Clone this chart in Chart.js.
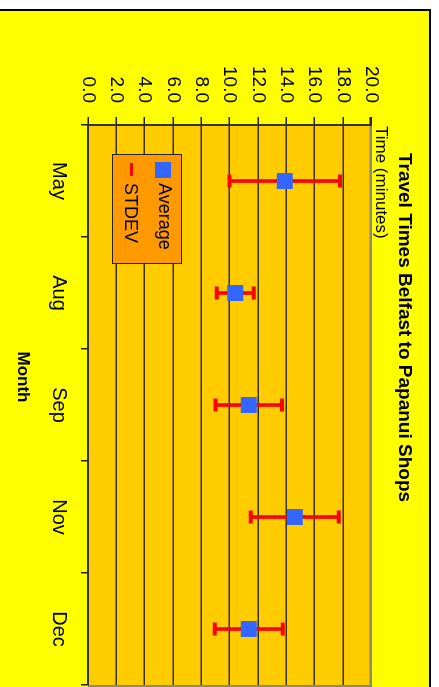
<!DOCTYPE html>
<html>
<head>
<meta charset="utf-8">
<script src="https://cdn.jsdelivr.net/npm/chart.js@4.4.1/dist/chart.umd.min.js"></script>
<style>
html,body{margin:0;padding:0;background:#fff;overflow:hidden;width:439px;height:687px;}
#rot{position:absolute;left:0;top:0;width:687px;height:439px;transform-origin:0 0;transform:translate(439px,0) rotate(90deg);}
#c{position:absolute;left:0;top:0;}
#legend{position:absolute;left:154px;top:257px;width:110px;height:70px;box-sizing:border-box;background:#FF9900;border:1px solid #222;font-family:"Liberation Sans",Arial,sans-serif;font-size:18px;line-height:18px;color:#000;}
#legend .sq{position:absolute;left:7px;top:10px;width:16px;height:16px;background:#3366FF;}
#legend .t1{position:absolute;left:28px;top:7px;white-space:nowrap;}
#legend .dash{position:absolute;left:8px;top:48px;width:13px;height:3px;background:#FF0000;}
#legend .t2{position:absolute;left:28px;top:41px;white-space:nowrap;}
</style>
</head>
<body>
<div id="rot">
  <canvas id="c" width="687" height="439"></canvas>
  <div id="legend"><div class="sq"></div><div class="t1" id="l1"></div><div class="dash"></div><div class="t2" id="l2"></div></div>
</div>
<script>
// ---- data ----
const months = ['May', 'Aug', 'Sep', 'Nov', 'Dec'];
const average = [13.9, 10.4, 11.35, 14.6, 11.35];
const stdev = [3.9, 1.3, 2.35, 3.1, 2.4];
const timeMin = 0;
const timeMax = 20;
const timeStep = 2;
const seriesNames = ['Average', 'STDEV'];
const titleText = 'Travel Times Belfast to Papanui Shops';
const xTitle = 'Month';
const yTitle = 'Time (minutes)';

const lower = average.map((a, i) => a - stdev[i]);
const upper = average.map((a, i) => a + stdev[i]);
const whisker = average.map((a, i) => [lower[i], upper[i]]);

document.getElementById('l1').textContent = seriesNames[0];
document.getElementById('l2').textContent = seriesNames[1];

const FAMILY = '"Liberation Sans", Arial, sans-serif';
Chart.defaults.font.family = FAMILY;
Chart.defaults.color = '#000';

const decor = {
  id: 'decor',
  afterLayout(chart) {
    if (chart.titleBlock) { chart.titleBlock.left = 11; chart.titleBlock.right = 644; }
  },
  beforeDraw(chart) {
    const ctx = chart.ctx, a = chart.chartArea;
    ctx.save();
    ctx.fillStyle = '#fff'; ctx.fillRect(0, 0, chart.width, chart.height);
    ctx.fillStyle = '#FFFF00'; ctx.fillRect(9, 8, chart.width - 9, chart.height - 8);
    ctx.fillStyle = '#000';
    ctx.fillRect(9, 8, chart.width - 9, 2);
    ctx.fillRect(9, 8, 2, chart.height - 8);
    ctx.fillStyle = '#FFCC00'; ctx.fillRect(a.left, a.top, a.right - a.left, a.bottom - a.top);
    ctx.fillStyle = '#8a8a80'; ctx.fillRect(a.right, a.top - 1, 2, a.bottom - a.top + 1);
    ctx.restore();
  },
  afterDraw(chart) {
    const ctx = chart.ctx, a = chart.chartArea;
    ctx.save();
    ctx.fillStyle = '#000';
    ctx.textBaseline = 'alphabetic';
    ctx.textAlign = 'left';
    ctx.font = '17px ' + FAMILY;
    ctx.fillText(yTitle, a.left + 1, a.top - 4.5);
    ctx.textAlign = 'center';
    ctx.font = 'bold 17px ' + FAMILY;
    ctx.fillText(xTitle, 377, 421);
    ctx.restore();
  }
};

new Chart(document.getElementById('c'), {
  type: 'bar',
  data: {
    labels: months,
    datasets: [
      { type: 'line', label: seriesNames[0], data: average, showLine: false,
        pointStyle: 'rect', pointRadius: 11.3, pointHoverRadius: 11.3,
        pointBackgroundColor: '#3366FF', pointBorderWidth: 0, order: 0 },
      { type: 'bar', label: seriesNames[1], data: whisker, backgroundColor: '#FF0000',
        borderWidth: 0, barThickness: 3, order: 2 },
      { type: 'line', label: 'low', data: lower, showLine: false, pointStyle: 'line',
        pointRadius: 6.5, pointHoverRadius: 6.5, pointBorderColor: '#FF0000',
        pointBackgroundColor: '#FF0000', pointBorderWidth: 4, order: 1 },
      { type: 'line', label: 'high', data: upper, showLine: false, pointStyle: 'line',
        pointRadius: 6.5, pointHoverRadius: 6.5, pointBorderColor: '#FF0000',
        pointBackgroundColor: '#FF0000', pointBorderWidth: 4, order: 1 }
    ]
  },
  options: {
    responsive: false,
    animation: false,
    events: [],
    layout: { autoPadding: false, padding: { top: 10, left: 11, right: 2, bottom: 0 } },
    plugins: {
      legend: { display: false },
      tooltip: { enabled: false },
      title: { display: true, text: titleText, color: '#000',
        font: { size: 19, weight: 'bold', family: FAMILY },
        padding: { top: 13, bottom: 22 } }
    },
    scales: {
      x: {
        type: 'category', offset: true,
        grid: { offset: true, drawOnChartArea: false, drawTicks: true, tickLength: 7,
          color: '#222', tickColor: '#222', lineWidth: 1.5 },
        border: { color: '#333', width: 2 },
        ticks: { font: { size: 20, family: FAMILY }, color: '#000', padding: 10, maxRotation: 0 },
        afterFit(s) { s.height = 88; s.paddingLeft = 0; s.paddingRight = 0; }
      },
      y: {
        min: timeMin, max: timeMax,
        ticks: { stepSize: timeStep, callback: v => Number(v).toFixed(1),
          font: { size: 19, family: FAMILY }, color: '#000', padding: 14 },
        grid: {
          color: c => (c.tick && c.tick.value === timeMax) ? '#8a8a80' : '#3a3000',
          lineWidth: c => (c.tick && c.tick.value === timeMax) ? 2.5 : 1.5,
          tickLength: 8, tickColor: '#222'
        },
        border: { color: '#333', width: 2 },
        afterFit(s) { s.width = 114; }
      }
    }
  },
  plugins: [decor]
});
</script>
</body>
</html>
